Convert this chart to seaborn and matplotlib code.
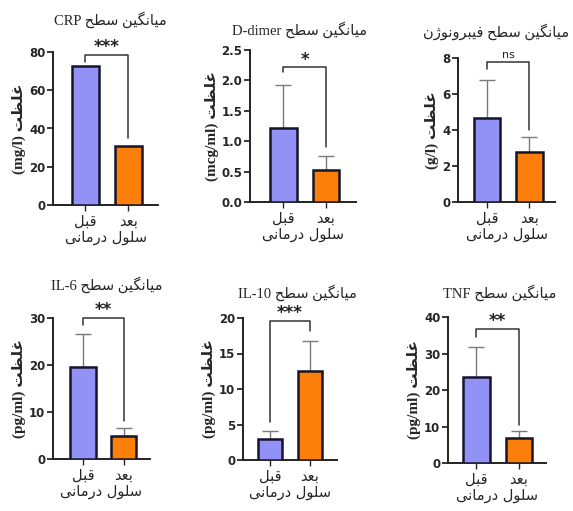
import matplotlib
matplotlib.use("Agg")
import matplotlib.pyplot as plt
import seaborn as sns
import pandas as pd

# ---------------------------------------------------------------
# data
# ---------------------------------------------------------------
groups = ["قبل", "بعد"]
markers = ["CRP", "D-dimer", "فیبرونوژن", "IL-6", "IL-10", "TNF"]
units = ["(mg/l)", "(mcg/ml)", "(g/l)", "(pg/ml)", "(pg/ml)", "(pg/ml)"]

crp_mean = [72.5, 31.0]
crp_err = [0.0, 0.0]
ddimer_mean = [1.22, 0.53]
ddimer_err = [0.70, 0.22]
fib_mean = [4.65, 2.78]
fib_err = [2.10, 0.84]
il6_mean = [19.6, 5.0]
il6_err = [7.0, 1.7]
il10_mean = [3.0, 12.5]
il10_err = [1.1, 4.3]
tnf_mean = [23.5, 6.8]
tnf_err = [8.3, 2.0]

sig_labels = ["***", "*", "ns", "**", "***", "**"]
y_max = [80, 2.5, 8, 30, 20, 40]
y_step = [20, 0.5, 2, 10, 5, 10]
# bracket: top height, left leg end, right leg end
bracket_top = [78.5, 2.22, 7.75, 30.0, 19.6, 36.8]
bracket_left = [75.0, 2.13, 7.40, 28.5, 5.3, 34.5]
bracket_right = [35.0, 0.90, 4.00, 8.0, 18.2, 10.5]

means = [crp_mean, ddimer_mean, fib_mean, il6_mean, il10_mean, tnf_mean]
errs = [crp_err, ddimer_err, fib_err, il6_err, il10_err, tnf_err]

title_prefix = "میانگین سطح"
ylabel_word = "غلظت"
xlabel_text = "سلول درمانی"


# ---------------------------------------------------------------
# tiny arabic/persian shaper (matplotlib has no text shaping)
# forms: isolated, final, initial, medial
# ---------------------------------------------------------------
FORMS = {
    "ا": (0xFE8D, 0xFE8E, None, None),
    "د": (0xFEA9, 0xFEAA, None, None),
    "ر": (0xFEAD, 0xFEAE, None, None),
    "ژ": (0xFB8A, 0xFB8B, None, None),
    "و": (0xFEED, 0xFEEE, None, None),
    "ب": (0xFE8F, 0xFE90, 0xFE91, 0xFE92),
    "ت": (0xFE95, 0xFE96, 0xFE97, 0xFE98),
    "ح": (0xFEA1, 0xFEA2, 0xFEA3, 0xFEA4),
    "س": (0xFEB1, 0xFEB2, 0xFEB3, 0xFEB4),
    "ط": (0xFEC1, 0xFEC2, 0xFEC3, 0xFEC4),
    "ظ": (0xFEC5, 0xFEC6, 0xFEC7, 0xFEC8),
    "ع": (0xFEC9, 0xFECA, 0xFECB, 0xFECC),
    "غ": (0xFECD, 0xFECE, 0xFECF, 0xFED0),
    "ف": (0xFED1, 0xFED2, 0xFED3, 0xFED4),
    "ق": (0xFED5, 0xFED6, 0xFED7, 0xFED8),
    "گ": (0xFB92, 0xFB93, 0xFB94, 0xFB95),
    "ل": (0xFEDD, 0xFEDE, 0xFEDF, 0xFEE0),
    "م": (0xFEE1, 0xFEE2, 0xFEE3, 0xFEE4),
    "ن": (0xFEE5, 0xFEE6, 0xFEE7, 0xFEE8),
    "ی": (0xFBFC, 0xFBFD, 0xFBFE, 0xFBFF),
}


def rtl(text):
    out = []
    for i, ch in enumerate(text):
        if ch not in FORMS:
            out.append(ch)
            continue
        prev = text[i - 1] if i > 0 else ""
        nxt = text[i + 1] if i + 1 < len(text) else ""
        join_prev = prev in FORMS and FORMS[prev][2] is not None
        join_next = FORMS[ch][2] is not None and nxt in FORMS
        iso, fin, ini, med = FORMS[ch]
        if join_prev and join_next:
            code = med
        elif join_prev:
            code = fin
        elif join_next:
            code = ini
        else:
            code = iso
        out.append(chr(code))
    return "".join(out)[::-1]


def title_for(marker):
    if marker[0] in FORMS:
        return rtl(title_prefix + " " + marker)
    return marker + " " + rtl(title_prefix)


sns.set_theme(style="ticks")
plt.rcParams["font.family"] = ["DejaVu Sans"]

fig = plt.figure(figsize=(5.73, 5.11), dpi=100)
W, H = 573.0, 511.0

# axes boxes in pixels: left, right, top, bottom, and x-limits
boxes = [
    (53, 158, 52, 205, (-0.74, 1.68)),
    (250, 356, 50, 202, (-0.79, 1.71)),
    (458, 555, 58, 202, (-0.68, 1.60)),
    (53, 150, 318, 459, (-0.74, 1.65)),
    (243, 337, 318, 460, (-0.68, 1.68)),
    (448, 546, 317, 463, (-0.67, 1.64)),
]
# title anchors in pixels (centre, except the long one which is right-aligned)
title_pos = [(110, 20), (300, 30), (569, 32), (107, 285), (297, 293), (500, 293)]
title_ha = ["center", "center", "right", "center", "center", "center"]

colors = ["#9292f6", "#fd7f0b"]
x_groups = [rtl(g) for g in groups]

for k in range(6):
    l, r, t, b, xl = boxes[k]
    ax = fig.add_axes([l / W, 1 - b / H, (r - l) / W, (b - t) / H])
    df = pd.DataFrame({"group": x_groups, "value": means[k]})
    sns.barplot(data=df, x="group", y="value", hue="group", palette=colors,
                width=0.62, edgecolor="#15152a", linewidth=1.8, saturation=1,
                errorbar=None, legend=False, ax=ax, zorder=3)
    if max(errs[k]) > 0:
        ax.errorbar([0, 1], means[k], yerr=[[0, 0], errs[k]], fmt="none",
                    ecolor="#7a7a7a", elinewidth=1.0, capsize=6, capthick=1.0,
                    zorder=2)

    # significance bracket
    ax.plot([0, 0, 1, 1], [bracket_left[k], bracket_top[k], bracket_top[k], bracket_right[k]],
            color="#333333", lw=1.1, clip_on=False, zorder=4)
    is_ns = sig_labels[k] == "ns"
    ax.text(0.5, bracket_top[k] + y_max[k] * (0.02 if is_ns else -0.01), sig_labels[k],
            ha="center", va="bottom", fontsize=8 if is_ns else 12,
            fontweight="normal" if is_ns else "bold", color="#222222")

    ax.set_xlim(*xl)
    ax.set_ylim(0, y_max[k])
    n = int(round(y_max[k] / y_step[k]))
    ticks = [y_step[k] * i for i in range(n + 1)]
    ax.set_yticks(ticks)
    if y_step[k] < 1:
        ax.set_yticklabels([f"{v:.1f}" for v in ticks])
    else:
        ax.set_yticklabels([f"{int(v)}" for v in ticks])

    for s in ["top", "right"]:
        ax.spines[s].set_visible(False)
    for s in ["left", "bottom"]:
        ax.spines[s].set_linewidth(1.4)
        ax.spines[s].set_color("#222222")
    ax.tick_params(axis="y", length=4, width=1.3, labelsize=8.5, pad=1.5)
    ax.tick_params(axis="x", length=4, width=1.0, labelsize=10.5, pad=2)
    for lab in ax.get_yticklabels():
        lab.set_fontweight("bold")

    ax.set_xlabel(rtl(xlabel_text), fontsize=10.5, labelpad=1)
    ax.set_ylabel(units[k] + " " + rtl(ylabel_word), fontsize=11,
                  fontweight="bold", labelpad=2,
                  family=["Liberation Serif", "DejaVu Sans"])

    tx, ty = title_pos[k]
    fig.text(tx / W, 1 - ty / H, title_for(markers[k]), ha=title_ha[k], va="center",
             fontsize=10.5, family=["Liberation Serif", "DejaVu Sans"])

fig.savefig("out.png", dpi=100)
